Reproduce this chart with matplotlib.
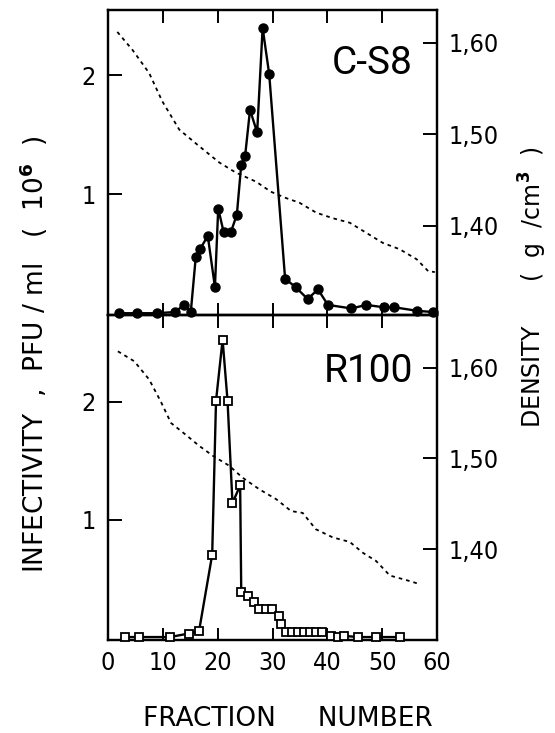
import matplotlib
matplotlib.use("Agg")
import matplotlib.pyplot as plt

NUM_FONT = dict(family="DejaVu Sans", stretch="condensed", size=18)

# C-S8: infectivity (PFU/ml x 10^6) per fraction
cs8_frac = [2.0, 5.2, 8.9, 12.2, 13.9, 15.1, 16.0, 16.8, 18.2, 19.5, 20.1, 21.1, 22.4,
            23.5, 24.3, 25.0, 25.9, 27.2, 28.2, 29.4, 32.3, 34.2, 36.4, 38.3, 40.1,
            44.4, 47.1, 50.3, 52.2, 56.4, 59.3]
cs8_pfu = [0.0, 0.0, 0.0, 0.01, 0.07, 0.01, 0.47, 0.54, 0.65, 0.22, 0.88, 0.68, 0.68,
           0.83, 1.25, 1.32, 1.71, 1.52, 2.40, 2.01, 0.29, 0.22, 0.12, 0.20, 0.07,
           0.04, 0.07, 0.05, 0.05, 0.02, 0.01]

# C-S8: density gradient
cs8_dfrac = [1.7, 4.5, 7.5, 9.9, 13.0, 16.6, 20.3, 23.3, 27.0, 29.7, 32.5, 34.9, 38.0,
             41.0, 44.1, 47.1, 50.1, 53.2, 56.3, 58.4, 59.6]
cs8_dens = [1.612, 1.592, 1.567, 1.536, 1.505, 1.487, 1.469, 1.458, 1.448, 1.437, 1.430,
            1.425, 1.414, 1.408, 1.403, 1.392, 1.381, 1.374, 1.363, 1.350, 1.349]

# R100: infectivity
r100_frac = [3.1, 5.7, 11.3, 14.7, 16.6, 19.0, 19.7, 20.9, 21.8, 22.7, 24.1, 24.3, 25.5,
             26.6, 27.6, 28.8, 29.9, 31.1, 31.6, 32.5, 33.6, 34.7, 35.8, 36.9, 38.0,
             39.1, 40.7, 41.9, 43.1, 45.6, 48.8, 53.2]
r100_pfu = [0.0, 0.0, 0.0, 0.03, 0.05, 0.70, 2.01, 2.53, 2.01, 1.14, 1.29, 0.38, 0.35,
            0.30, 0.24, 0.24, 0.24, 0.18, 0.11, 0.04, 0.04, 0.04, 0.04, 0.04, 0.04,
            0.04, 0.01, 0.0, 0.01, 0.0, 0.0, 0.0]

# R100: density gradient
r100_dfrac = [1.8, 4.8, 7.5, 9.6, 11.5, 14.2, 16.6, 19.1, 22.1, 24.5, 27.6, 30.7, 33.4,
              35.5, 37.9, 41.0, 44.1, 46.5, 48.9, 51.4, 54.4, 56.6]
r100_dens = [1.618, 1.607, 1.587, 1.563, 1.539, 1.526, 1.514, 1.503, 1.492, 1.479, 1.466,
             1.455, 1.442, 1.440, 1.422, 1.413, 1.408, 1.396, 1.387, 1.371, 1.366, 1.362]

x_ticks = [0, 10, 20, 30, 40, 50, 60]
pfu_ticks = [1, 2]
dens_ticks = [1.40, 1.50, 1.60]
dens_labels = ["1,40", "1,50", "1,60"]

fig = plt.figure(figsize=(5.55, 7.33), dpi=100)
left, width = 108 / 555, 329 / 555
ax_top = fig.add_axes([left, 1 - 315 / 733, width, 305 / 733])
ax_bot = fig.add_axes([left, 1 - 640 / 733, width, 325 / 733])


def style_panel(ax, pfu_lim, dens_lim, bottom_labels):
    ax.set_xlim(0, 60)
    ax.set_ylim(*pfu_lim)
    ax.set_xticks(x_ticks)
    ax.set_yticks(pfu_ticks)
    ax.set_yticklabels([str(t) for t in pfu_ticks], **NUM_FONT)
    ax.tick_params(axis="x", direction="in", top=True, bottom=True, length=9, width=1.4,
                   labelbottom=bottom_labels, pad=8)
    ax.tick_params(axis="y", direction="in", length=10, width=1.4, pad=9)
    if bottom_labels:
        ax.set_xticklabels([str(t) for t in x_ticks], **NUM_FONT)
    for s in ax.spines.values():
        s.set_linewidth(1.6)
    ax2 = ax.twinx()
    ax2.set_ylim(*dens_lim)
    ax2.set_yticks(dens_ticks)
    ax2.set_yticklabels(dens_labels, **NUM_FONT)
    ax2.tick_params(axis="y", direction="in", length=10, width=1.4, pad=8)
    for s in ax2.spines.values():
        s.set_linewidth(1.6)
    return ax2


top_d = style_panel(ax_top, (-0.015, 2.55), (1.302, 1.636), False)
bot_d = style_panel(ax_bot, (-0.025, 2.74), (1.300, 1.658), True)

top_d.plot(cs8_dfrac, cs8_dens, color="black", lw=1.3, ls=(0, (2, 2.2)))
ax_top.plot(cs8_frac, cs8_pfu, color="black", lw=1.7, marker="o", ms=6.5,
            clip_on=False, zorder=3)
ax_top.set_zorder(top_d.get_zorder() + 1)
ax_top.patch.set_visible(False)

bot_d.plot(r100_dfrac, r100_dens, color="black", lw=1.3, ls=(0, (2, 2.2)))
ax_bot.plot(r100_frac, r100_pfu, color="black", lw=1.7, marker="s", ms=6,
            mfc="white", mec="black", mew=1.3, clip_on=False, zorder=3)
ax_bot.set_zorder(bot_d.get_zorder() + 1)
ax_bot.patch.set_visible(False)

title_font = dict(family=["Roboto", "DejaVu Sans"], weight="normal", size=28)
ax_top.text(0.927, 0.823, "C-S8", transform=ax_top.transAxes, ha="right", va="center",
            **title_font)
ax_bot.text(0.927, 0.825, "R100", transform=ax_bot.transAxes, ha="right", va="center",
            **title_font)

fig.text(34 / 555, 1 - 354 / 733,
         "INFECTIVITY  ,  PFU / ml   (  10$^{\\mathbf{6}}$  )",
         rotation=90, ha="center", va="center", fontsize=19)
fig.text(533 / 555, 1 - 287 / 733, "DENSITY      (  g  /cm$^{\\mathbf{3}}$  )",
         rotation=90, ha="center", va="center", fontsize=17)
fig.text(288 / 555, 1 - 719 / 733, "FRACTION     NUMBER", ha="center", va="center",
         fontsize=19)

fig.savefig("out.png", dpi=100)
